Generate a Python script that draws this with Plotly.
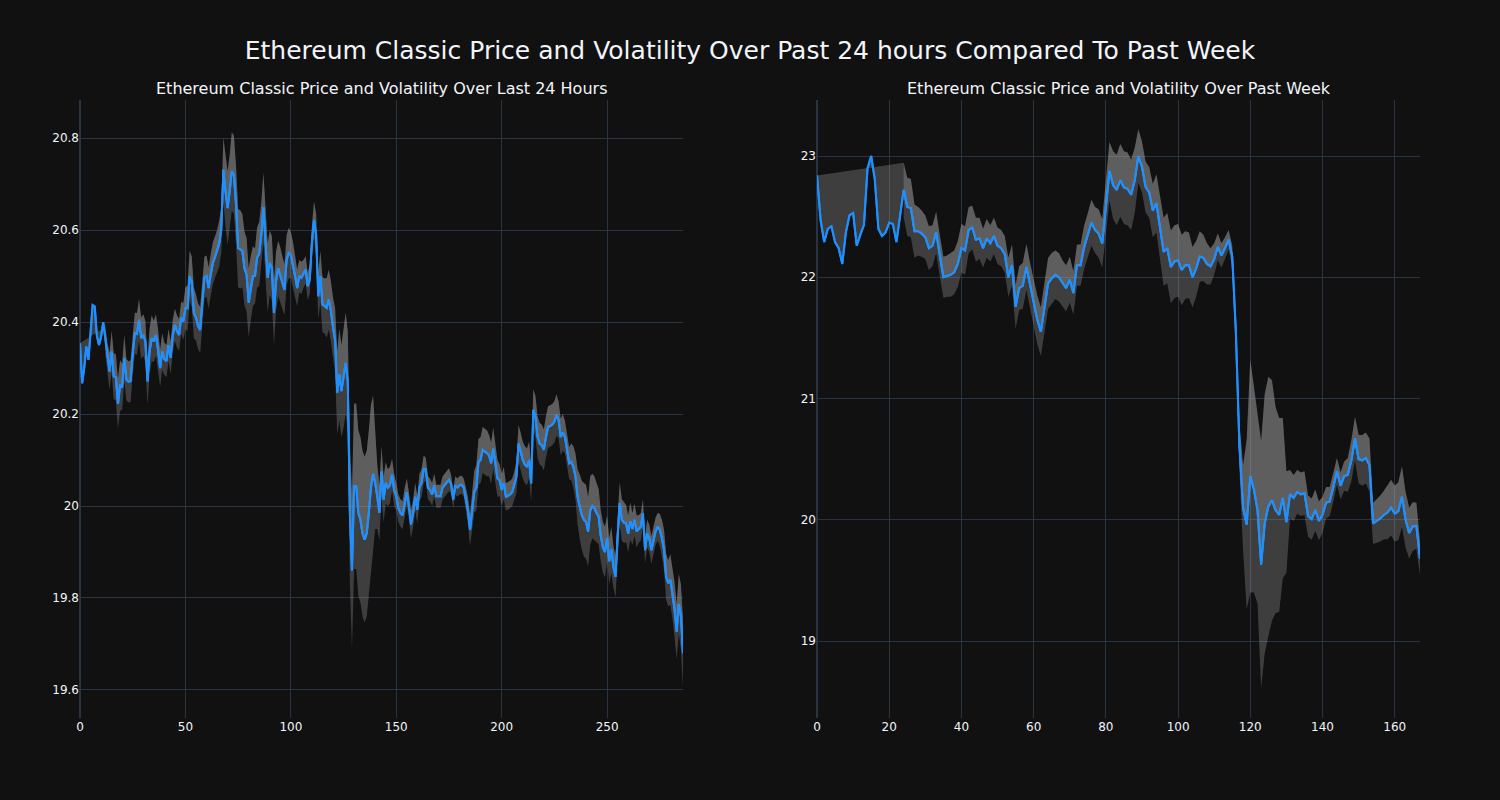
import plotly.graph_objects as go
from plotly.subplots import make_subplots

# ---------------- data: last 24 hours (5-minute steps) ----------------
steps_24h = list(range(287))
price_24h = [
    20.354, 20.267, 20.300, 20.347, 20.318, 20.390, 20.437, 20.434, 20.370, 20.350,
    20.368, 20.400, 20.360, 20.320, 20.293, 20.336, 20.282, 20.280, 20.222, 20.262,
    20.260, 20.322, 20.275, 20.270, 20.272, 20.330, 20.376, 20.374, 20.405, 20.365,
    20.372, 20.358, 20.271, 20.336, 20.365, 20.358, 20.372, 20.340, 20.300, 20.336,
    20.320, 20.315, 20.350, 20.322, 20.370, 20.394, 20.380, 20.372, 20.410, 20.401,
    20.430, 20.430, 20.500, 20.488, 20.420, 20.410, 20.391, 20.383, 20.445, 20.497,
    20.500, 20.474, 20.503, 20.528, 20.541, 20.555, 20.570, 20.601, 20.731, 20.684,
    20.648, 20.684, 20.728, 20.720, 20.655, 20.561, 20.558, 20.555, 20.517, 20.503,
    20.442, 20.474, 20.500, 20.500, 20.540, 20.548, 20.590, 20.650, 20.570, 20.496,
    20.529, 20.517, 20.420, 20.489, 20.517, 20.503, 20.488, 20.470, 20.535, 20.550,
    20.546, 20.525, 20.500, 20.474, 20.500, 20.496, 20.505, 20.514, 20.478, 20.493,
    20.575, 20.622, 20.590, 20.456, 20.500, 20.438, 20.435, 20.431, 20.449, 20.424,
    20.388, 20.360, 20.246, 20.286, 20.250, 20.280, 20.311, 20.270, 19.985, 19.860,
    20.043, 20.043, 19.985, 19.970, 19.940, 19.927, 19.940, 19.985, 20.040, 20.070,
    20.050, 20.020, 19.985, 20.075, 20.014, 20.050, 20.040, 20.045, 20.068, 20.035,
    20.020, 19.995, 19.985, 19.980, 20.010, 20.030, 20.000, 19.960, 19.985, 20.020,
    19.992, 20.040, 20.050, 20.080, 20.080, 20.040, 20.035, 20.025, 20.045, 20.021,
    20.021, 20.021, 20.040, 20.045, 20.050, 20.057, 20.048, 20.014, 20.045, 20.040,
    20.045, 20.046, 20.040, 20.017, 19.990, 19.948, 19.990, 20.031, 20.040, 20.096,
    20.100, 20.122, 20.118, 20.115, 20.110, 20.093, 20.125, 20.090, 20.060, 20.056,
    20.035, 20.050, 20.020, 20.022, 20.025, 20.030, 20.045, 20.064, 20.136, 20.120,
    20.100, 20.090, 20.085, 20.100, 20.049, 20.209, 20.195, 20.150, 20.136, 20.132,
    20.122, 20.150, 20.172, 20.174, 20.177, 20.183, 20.198, 20.187, 20.150, 20.160,
    20.150, 20.122, 20.093, 20.096, 20.085, 20.064, 20.020, 19.999, 19.980, 19.970,
    19.966, 19.944, 19.990, 20.000, 19.995, 19.985, 19.977, 19.935, 19.910, 19.900,
    19.930, 19.880, 19.905, 19.868, 19.846, 19.934, 20.006, 19.970, 19.964, 19.962,
    19.940, 19.967, 19.950, 19.970, 19.945, 19.950, 19.955, 19.984, 19.904, 19.940,
    19.930, 19.904, 19.925, 19.945, 19.955, 19.948, 19.930, 19.904, 19.846, 19.832,
    19.840, 19.810, 19.774, 19.727, 19.787, 19.760, 19.680,
]
vol_24h = [
    None, None, None, None, None, None, None, None, None, None,
    None, None, 0.030, 0.035, 0.040, 0.045, 0.050, 0.050, 0.055, 0.055,
    0.050, 0.050, 0.045, 0.045, 0.045, 0.045, 0.045, 0.045, 0.045, 0.045,
    0.045, 0.045, 0.050, 0.050, 0.050, 0.045, 0.045, 0.045, 0.040, 0.040,
    0.035, 0.035, 0.035, 0.035, 0.035, 0.035, 0.035, 0.035, 0.035, 0.040,
    0.045, 0.050, 0.055, 0.055, 0.055, 0.050, 0.050, 0.050, 0.050, 0.045,
    0.045, 0.045, 0.045, 0.045, 0.045, 0.045, 0.050, 0.050, 0.070, 0.075,
    0.080, 0.080, 0.085, 0.085, 0.085, 0.085, 0.085, 0.080, 0.080, 0.080,
    0.075, 0.070, 0.065, 0.060, 0.065, 0.070, 0.070, 0.075, 0.075, 0.075,
    0.070, 0.070, 0.070, 0.065, 0.060, 0.060, 0.055, 0.055, 0.055, 0.055,
    0.050, 0.050, 0.045, 0.040, 0.035, 0.035, 0.030, 0.030, 0.030, 0.030,
    0.035, 0.040, 0.045, 0.050, 0.055, 0.060, 0.060, 0.065, 0.065, 0.065,
    0.065, 0.070, 0.090, 0.100, 0.100, 0.110, 0.110, 0.110, 0.150, 0.170,
    0.180, 0.180, 0.180, 0.180, 0.180, 0.180, 0.180, 0.180, 0.180, 0.170,
    0.100, 0.070, 0.060, 0.055, 0.050, 0.045, 0.040, 0.040, 0.035, 0.035,
    0.030, 0.030, 0.030, 0.030, 0.030, 0.030, 0.030, 0.030, 0.030, 0.030,
    0.030, 0.030, 0.030, 0.030, 0.025, 0.025, 0.025, 0.025, 0.025, 0.025,
    0.025, 0.025, 0.025, 0.025, 0.025, 0.025, 0.020, 0.020, 0.020, 0.020,
    0.020, 0.020, 0.020, 0.025, 0.030, 0.035, 0.040, 0.045, 0.050, 0.050,
    0.050, 0.050, 0.050, 0.050, 0.045, 0.045, 0.045, 0.040, 0.040, 0.035,
    0.035, 0.035, 0.030, 0.030, 0.030, 0.030, 0.030, 0.035, 0.040, 0.040,
    0.040, 0.040, 0.040, 0.040, 0.040, 0.045, 0.045, 0.045, 0.045, 0.045,
    0.045, 0.045, 0.045, 0.045, 0.045, 0.045, 0.045, 0.040, 0.040, 0.040,
    0.035, 0.035, 0.035, 0.040, 0.045, 0.050, 0.060, 0.070, 0.075, 0.080,
    0.080, 0.075, 0.075, 0.070, 0.070, 0.065, 0.060, 0.055, 0.055, 0.055,
    0.050, 0.050, 0.050, 0.045, 0.045, 0.045, 0.045, 0.045, 0.045, 0.040,
    0.040, 0.040, 0.035, 0.035, 0.035, 0.030, 0.030, 0.030, 0.030, 0.030,
    0.030, 0.030, 0.030, 0.030, 0.030, 0.035, 0.040, 0.045, 0.050, 0.050,
    0.055, 0.055, 0.060, 0.060, 0.065, 0.070, 0.075,
]

# ---------------- data: past week (hourly steps) ----------------
steps_week = list(range(168))
price_week = [
    22.84, 22.47, 22.29, 22.40, 22.42, 22.29, 22.24, 22.11, 22.37, 22.51,
    22.53, 22.26, 22.35, 22.43, 22.90, 23.00, 22.81, 22.40, 22.34, 22.37,
    22.45, 22.44, 22.29, 22.50, 22.72, 22.58, 22.57, 22.38, 22.38, 22.36,
    22.33, 22.24, 22.26, 22.37, 22.18, 22.00, 22.01, 22.02, 22.04, 22.11,
    22.24, 22.22, 22.39, 22.41, 22.31, 22.32, 22.24, 22.32, 22.28, 22.34,
    22.26, 22.24, 22.19, 22.00, 22.10, 21.756, 21.91, 21.93, 22.085, 21.93,
    21.78, 21.65, 21.55, 21.74, 21.95, 21.99, 22.02, 22.00, 21.95, 21.91,
    21.98, 21.87, 22.10, 22.10, 22.25, 22.35, 22.45, 22.39, 22.36, 22.28,
    22.58, 22.876, 22.76, 22.72, 22.80, 22.74, 22.73, 22.68, 22.80, 23.00,
    22.91, 22.745, 22.70, 22.55, 22.61, 22.415, 22.21, 22.24, 22.085, 22.13,
    22.14, 22.06, 22.10, 22.10, 22.00, 22.07, 22.17, 22.16, 22.11, 22.09,
    22.15, 22.25, 22.18, 22.24, 22.31, 22.17, 21.55, 20.60, 20.10, 19.96,
    20.36, 20.25, 20.08, 19.63, 19.97, 20.11, 20.16, 20.08, 20.04, 20.18,
    19.98, 20.21, 20.18, 20.23, 20.21, 20.22, 20.03, 20.005, 20.08, 19.99,
    20.04, 20.14, 20.15, 20.27, 20.40, 20.28, 20.36, 20.37, 20.49, 20.67,
    20.50, 20.49, 20.51, 20.45, 19.97, 19.99, 20.01, 20.04, 20.06, 20.10,
    20.05, 20.07, 20.19, 20.00, 19.89, 19.945, 19.95, 19.68,
]
vol_week = [
    None, None, None, None, None, None, None, None, None, None,
    None, None, None, None, None, None, None, None, None, None,
    None, None, None, None, 0.225, 0.24, 0.24, 0.22, 0.20, 0.19,
    0.18, 0.18, 0.17, 0.17, 0.17, 0.17, 0.17, 0.18, 0.18, 0.19,
    0.20, 0.20, 0.19, 0.18, 0.18, 0.17, 0.16, 0.16, 0.15, 0.15,
    0.15, 0.15, 0.15, 0.16, 0.17, 0.18, 0.18, 0.19, 0.19, 0.19,
    0.20, 0.20, 0.20, 0.20, 0.21, 0.21, 0.20, 0.20, 0.19, 0.19,
    0.19, 0.18, 0.17, 0.17, 0.18, 0.18, 0.19, 0.19, 0.20, 0.20,
    0.21, 0.24, 0.28, 0.29, 0.30, 0.30, 0.30, 0.29, 0.27, 0.22,
    0.21, 0.21, 0.21, 0.22, 0.24, 0.26, 0.28, 0.29, 0.30, 0.30,
    0.30, 0.29, 0.28, 0.27, 0.25, 0.23, 0.21, 0.19, 0.17, 0.15,
    0.13, 0.11, 0.10, 0.09, 0.08, 0.09, 0.10, 0.20, 0.35, 0.70,
    0.96, 0.85, 0.77, 1.02, 1.07, 1.07, 0.99, 0.85, 0.80, 0.66,
    0.42, 0.20, 0.19, 0.18, 0.18, 0.18, 0.17, 0.17, 0.17, 0.16,
    0.15, 0.13, 0.12, 0.12, 0.11, 0.11, 0.12, 0.14, 0.17, 0.18,
    0.20, 0.21, 0.21, 0.22, 0.17, 0.18, 0.19, 0.20, 0.22, 0.23,
    0.23, 0.24, 0.25, 0.23, 0.21, 0.20, 0.19, 0.14,
]

title_main = "Ethereum Classic Price and Volatility Over Past 24 hours Compared To Past Week"
title_left = "Ethereum Classic Price and Volatility Over Last 24 Hours"
title_right = "Ethereum Classic Price and Volatility Over Past Week"

LINE = "#1E90FF"
FILL = "rgba(169,169,169,0.3)"
FONT = "DejaVu Sans, Verdana, sans-serif"


def band(prices, vols, sign):
    return [None if v is None else p + sign * v for p, v in zip(prices, vols)]


fig = make_subplots(rows=1, cols=2, subplot_titles=(title_left, title_right))

for col, xs, ps, vs in ((1, steps_24h, price_24h, vol_24h),
                        (2, steps_week, price_week, vol_week)):
    fig.add_trace(go.Scatter(x=xs, y=ps, mode="lines",
                             line=dict(color=LINE, width=2)), row=1, col=col)
    fig.add_trace(go.Scatter(x=xs, y=band(ps, vs, 1), mode="lines",
                             line=dict(width=0, color="darkgray"),
                             fill="tonexty", fillcolor=FILL), row=1, col=col)
    fig.add_trace(go.Scatter(x=xs, y=band(ps, vs, -1), mode="lines",
                             line=dict(width=0, color="darkgray"),
                             fill="tonexty", fillcolor=FILL), row=1, col=col)
    fig.add_trace(go.Scatter(x=xs, y=ps, mode="lines",
                             line=dict(color=LINE, width=2)), row=1, col=col)

fig.update_layout(
    template="plotly_dark",
    width=1500, height=800,
    margin=dict(l=80, r=80, t=100, b=82),
    showlegend=False,
    font=dict(family=FONT),
    title=dict(text=title_main, x=0.5, xanchor="center",
               y=0.9375, yanchor="middle",
               font=dict(size=25, family=FONT)),
)
for ann in fig.layout.annotations:
    ann.font = dict(size=16, family=FONT)

fig.update_xaxes(range=[0, 286], row=1, col=1)
fig.update_xaxes(range=[0, 167], row=1, col=2)
fig.update_yaxes(range=[19.539, 20.883], row=1, col=1)
fig.update_yaxes(range=[18.365, 23.462], row=1, col=2)

fig.write_html("out.html",
               config={"displayModeBar": False},
               post_script="document.body.style.margin='0';document.body.style.background='#111111';")
